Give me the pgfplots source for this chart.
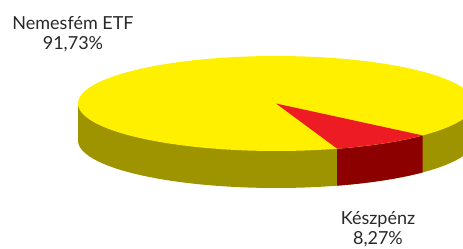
\documentclass[border=0pt]{standalone}
\usepackage{pgfplots}
\pgfplotsset{compat=1.18}
\usepgfplotslibrary{fillbetween}
\tikzset{fill between/on layer=main}
\usepackage{fontspec}
\setmainfont{Lato}
\definecolor{pietop}{RGB}{255,240,0}
\definecolor{pieside}{RGB}{158,148,0}
\definecolor{redtop}{RGB}{237,28,36}
\definecolor{redside}{RGB}{140,0,0}
\definecolor{txt}{RGB}{40,40,40}
% data (percent)
\def\valETF{91.73}
\def\valCash{8.27}
\def\startang{288}
\pgfmathsetmacro{\endang}{\startang+\valCash*3.6}
% geometry (pixel units)
\def\cx{276}\def\cy{103.5}\def\rx{198}\def\ry{47.5}\def\dd{37}
\begin{document}
\begin{tikzpicture}
\begin{axis}[
  scale only axis, width=4.63in, height=2.49in,
  xmin=0, xmax=463, ymin=0, ymax=249, y dir=reverse,
  hide axis, clip=true,
]
\path (rel axis cs:0,0) rectangle (rel axis cs:1,1);
% bottom ellipse and side band
\addplot[fill=pieside, draw=none, domain=0:360, samples=120]
  ({\cx+\rx*cos(x)}, {\cy+\dd-\ry*sin(x)}) -- cycle;
\addplot[fill=pieside, draw=none]
  coordinates {(\cx-\rx,\cy) (\cx+\rx,\cy) (\cx+\rx,\cy+\dd) (\cx-\rx,\cy+\dd)} -- cycle;
% red side
\addplot[name path=rt, draw=none, domain=\startang:\endang, samples=30]
  ({\cx+\rx*cos(x)}, {\cy-\ry*sin(x)});
\addplot[name path=rb, draw=none, domain=\startang:\endang, samples=30]
  ({\cx+\rx*cos(x)}, {\cy+\dd-\ry*sin(x)});
\addplot[fill=redside, draw=none] fill between[of=rt and rb];
% top ellipse
\addplot[fill=pietop, draw=none, domain=0:360, samples=120]
  ({\cx+\rx*cos(x)}, {\cy-\ry*sin(x)}) -- cycle;
% red wedge on top
\addplot[fill=redtop, draw=none, domain=\startang:\endang, samples=30]
  ({\cx+\rx*cos(x)}, {\cy-\ry*sin(x)}) -- (axis cs:\cx,\cy) -- cycle;
% labels
\node[align=center, text=txt, font=\fontsize{13}{14.5}\selectfont] at (axis cs:73,34) {Nemesfém ETF\\91,73\%};
\node[align=center, text=txt, font=\fontsize{13}{14.5}\selectfont] at (axis cs:378,229) {Készpénz\\8,27\%};
\end{axis}
\end{tikzpicture}
\end{document}
